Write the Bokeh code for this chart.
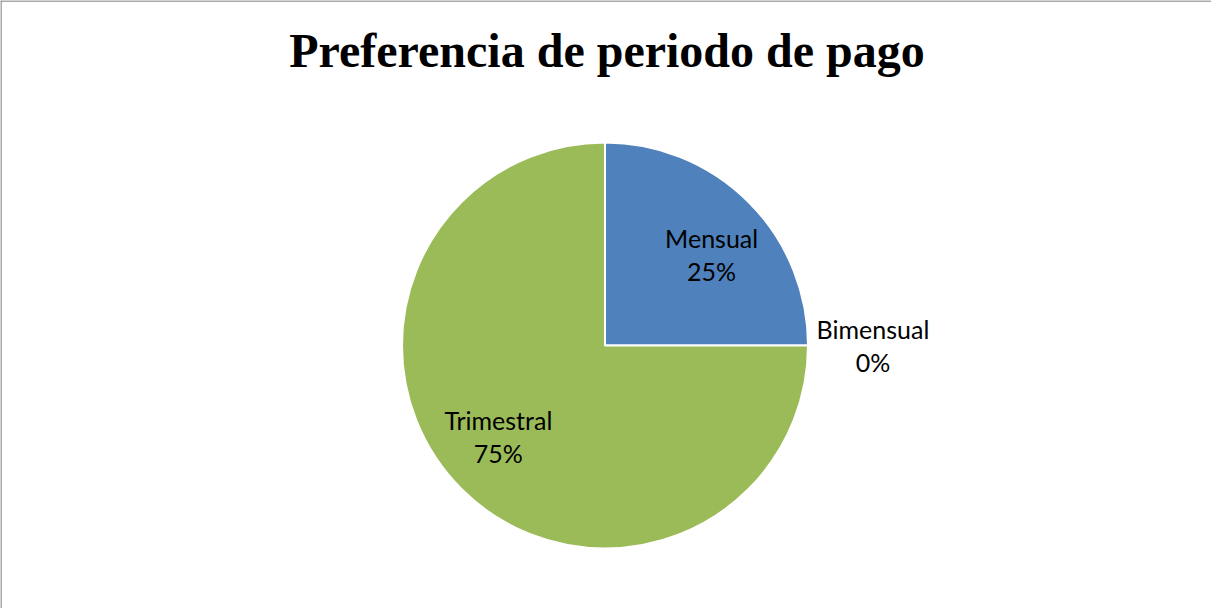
import math
from bokeh.plotting import figure
from bokeh.models import Range1d, Span, ColumnDataSource
from bokeh.core.properties import value
from bokeh.embed import file_html
from bokeh.resources import INLINE

# ---- data ----
categories = ["Mensual", "Bimensual", "Trimestral"]
shares = [25, 0, 75]
colors = ["#4F81BD", "#C0504D", "#9BBB59"]
title_text = "Preferencia de periodo de pago"

# ---- layout (pixel-like data space) ----
W, H = 1211, 608
cx, cy, r = 604.5, 263.0, 203.0

p = figure(width=W, height=H, x_range=Range1d(0, W), y_range=Range1d(0, H),
           output_backend="svg", toolbar_location=None, min_border=0,
           x_axis_location=None, y_axis_location=None)
p.grid.visible = False
p.outline_line_color = None
p.background_fill_color = "white"

# chart-area border (left and top edges visible in reference)
p.add_layout(Span(location=0.5, dimension="height", line_color="#8c8c8c", line_width=1.5))
p.add_layout(Span(location=H - 0.5, dimension="width", line_color="#8c8c8c", line_width=1.5))

# ---- wedges: start at 12 o'clock, clockwise ----
total = float(sum(shares))
starts, ends, mids = [], [], []
a = math.pi / 2
for s in shares:
    sweep = 2 * math.pi * s / total
    starts.append(a)
    ends.append(a - sweep)
    mids.append(a - sweep / 2)
    a -= sweep

vis = [i for i, s in enumerate(shares) if s > 0]
src = ColumnDataSource(dict(
    x=[cx] * len(vis), y=[cy] * len(vis),
    start=[starts[i] for i in vis], end=[ends[i] for i in vis],
    color=[colors[i] for i in vis]))
p.wedge(x="x", y="y", radius=r, start_angle="start", end_angle="end",
        direction="clock", fill_color="color", line_color="white",
        line_width=2, source=src)

# ---- labels (best-fit style: inside for real slices, outside for empty) ----
lx, ly, lt = [], [], []
for i, (c, s) in enumerate(zip(categories, shares)):
    if s > 0:
        f, ang = 0.69, mids[i] - 0.08
    else:
        f, ang = 1.32, mids[i]
    lx.append(cx + f * r * math.cos(ang))
    ly.append(cy + f * r * math.sin(ang))
    lt.append(f"{c}\n{s}%")
p.text(x=lx, y=ly, text=lt, text_align="center", text_baseline="middle",
       text_font=value("Lato"), text_font_size="25px", text_color="black",
       text_line_height=1.12)

# ---- title ----
p.text(x=[W / 2 + 1], y=[H - 50], text=[title_text], text_align="center",
       text_baseline="middle", text_font=value("Liberation Serif"),
       text_font_style="bold", text_font_size="48px", text_color="black")

open("out.html", "w").write(file_html(p, INLINE))
